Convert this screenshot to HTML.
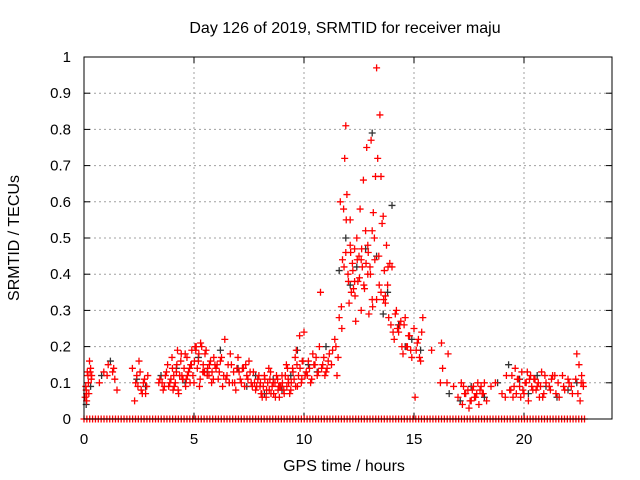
<!DOCTYPE html>
<html><head><meta charset="utf-8"><style>
body{margin:0;background:#fff}svg{display:block}
text{font-family:"Liberation Sans",sans-serif;font-size:16px;fill:#000}
.tick{font-size:15px}
</style></head><body>
<svg id="chart" width="640" height="480" viewBox="0 0 640 480">
<text x="345" y="33" text-anchor="middle">Day 126 of 2019, SRMTID for receiver maju</text>
<text x="344" y="471" text-anchor="middle">GPS time / hours</text>
<text x="19" y="238" text-anchor="middle" transform="rotate(-90 19 238)">SRMTID / TECUs</text>
<g id="grid"></g>
<g id="ticks"></g>
<g id="black"></g>
<g id="red"></g>
<rect x="84" y="57" width="528" height="362" fill="none" stroke="#000" stroke-width="1"/>
</svg>
<script>
const xTicks=[0,5,10,15,20];
const yTicks=[0,0.1,0.2,0.3,0.4,0.5,0.6,0.7,0.8,0.9,1];
const yTickLabels=["0","0.1","0.2","0.3","0.4","0.5","0.6","0.7","0.8","0.9","1"];
const redT=[0.05,0.1,0.15,0.2,0.3,0.35,0.7,0.9,1.1,1.3,1.4,1.5,2.2,2.3,2.4,2.5,2.6,2.7,2.8,2.9,3.4,3.6,3.7,3.8,3.9,4.0,4.1,4.2,4.3,4.4,4.5,4.6,4.7,4.8,4.9,5.0,5.1,5.2,5.3,5.4,5.5,5.6,5.7,5.8,5.9,6.0,6.1,6.2,6.3,6.4,6.5,6.6,6.7,6.8,6.9,7.0,7.1,7.2,7.3,7.4,7.5,7.6,7.7,7.8,7.9,8.0,8.1,8.2,8.3,8.4,8.5,8.6,8.7,8.8,8.9,9.0,9.1,9.2,9.3,9.4,9.5,9.6,9.7,9.8,9.9,10.0,10.1,10.2,10.3,10.4,10.5,10.6,10.7,10.8,10.9,11.0,11.1,11.3,11.4,11.5,11.6,11.7,11.75,11.8,11.85,11.9,11.95,12.0,12.05,12.1,12.15,12.2,12.25,12.3,12.35,12.4,12.45,12.5,12.55,12.6,12.65,12.7,12.75,12.8,12.85,12.9,12.95,13.0,13.05,13.1,13.15,13.2,13.25,13.3,13.35,13.4,13.45,13.5,13.55,13.6,13.65,13.7,13.75,13.8,13.85,13.9,13.95,14.0,14.1,14.2,14.3,14.4,14.5,14.6,14.7,14.8,14.9,15.0,15.1,15.2,15.3,15.4,15.8,16.2,16.3,16.5,16.8,17.0,17.2,17.3,17.5,17.6,17.7,17.8,17.9,18.0,18.1,18.3,18.5,18.7,19.0,19.2,19.4,19.5,19.6,19.7,19.8,19.9,20.0,20.1,20.2,20.3,20.4,20.5,20.6,20.7,20.8,20.9,21.0,21.2,21.4,21.6,21.8,22.0,22.2,22.4,22.5,22.6,22.7,
0.12,0.25,4.05,4.25,4.45,4.65,4.85,5.05,5.25,5.45,6.05,6.45,6.85,7.25,7.65,8.05,8.45,8.85,9.25,9.65,9.95,10.15,10.45,10.75,11.65,11.9,12.1,12.3,12.6,12.9,13.1,13.3,13.5,13.7,14.05,14.35,14.65,15.05,17.45,17.85,18.2,19.85,20.25,20.75,21.3,22.55,22.65];
const redV=[0.06,0.08,0.13,0.1,0.14,0.12,0.1,0.13,0.15,0.13,0.11,0.08,0.14,0.05,0.12,0.16,0.08,0.1,0.07,0.12,0.1,0.08,0.12,0.15,0.1,0.17,0.09,0.13,0.07,0.16,0.11,0.18,0.12,0.14,0.19,0.1,0.2,0.16,0.21,0.13,0.18,0.12,0.15,0.1,0.17,0.14,0.11,0.16,0.09,0.22,0.12,0.1,0.15,0.13,0.08,0.17,0.11,0.14,0.09,0.12,0.16,0.1,0.13,0.08,0.11,0.09,0.06,0.12,0.08,0.14,0.07,0.1,0.06,0.11,0.09,0.12,0.07,0.15,0.1,0.08,0.13,0.17,0.09,0.23,0.11,0.24,0.13,0.16,0.1,0.18,0.15,0.12,0.2,0.14,0.17,0.13,0.16,0.19,0.22,0.12,0.28,0.31,0.44,0.58,0.72,0.81,0.62,0.4,0.32,0.48,0.35,0.43,0.36,0.47,0.27,0.5,0.38,0.45,0.58,0.3,0.42,0.66,0.36,0.52,0.75,0.48,0.29,0.42,0.77,0.33,0.57,0.5,0.67,0.97,0.72,0.45,0.84,0.67,0.54,0.56,0.41,0.32,0.48,0.37,0.28,0.43,0.26,0.42,0.22,0.3,0.24,0.27,0.18,0.28,0.2,0.23,0.17,0.25,0.19,0.22,0.16,0.28,0.19,0.1,0.14,0.1,0.09,0.06,0.04,0.07,0.03,0.05,0.09,0.06,0.1,0.08,0.07,0.05,0.09,0.1,0.07,0.12,0.08,0.06,0.14,0.11,0.09,0.13,0.07,0.1,0.05,0.12,0.08,0.11,0.09,0.06,0.13,0.07,0.1,0.08,0.12,0.06,0.09,0.11,0.07,0.18,0.15,0.1,
0.09,0.07,0.16,0.08,0.19,0.12,0.11,0.15,0.2,0.09,0.13,0.15,0.11,0.1,0.14,0.09,0.07,0.11,0.09,0.14,0.19,0.16,0.12,0.15,0.35,0.6,0.46,0.55,0.38,0.44,0.4,0.52,0.33,0.35,0.34,0.24,0.26,0.2,0.06,0.08,0.07,0.1,0.06,0.11,0.09,0.12,0.05];
const redT2=[0.08,0.12,0.18,0.22,0.28,0.33,1.05,1.35,2.35,2.45,2.55,2.65,2.75,2.85,3.45,3.55,3.65,3.75,3.85,3.95,4.02,4.08,4.15,4.22,4.28,4.35,4.42,4.48,4.55,4.62,4.68,4.75,4.82,4.88,4.95,5.02,5.08,5.15,5.22,5.28,5.35,5.42,5.48,5.55,5.62,5.68,5.75,5.82,5.88,5.95,6.15,6.25,6.35,6.55,6.65,6.75,6.95,7.05,7.15,7.35,7.45,7.55,7.75,7.85,7.95,8.02,8.08,8.15,8.22,8.28,8.35,8.42,8.48,8.55,8.62,8.68,8.75,8.82,8.88,8.95,9.02,9.08,9.15,9.22,9.28,9.35,9.42,9.48,9.55,9.62,9.68,9.75,9.82,9.88,9.92,10.05,10.25,10.35,10.55,10.65,10.85,10.95,11.05,11.15,11.25,11.45,11.55,11.72,11.82,11.92,12.02,12.12,12.22,12.32,12.42,12.52,12.62,12.72,12.82,12.92,13.02,13.12,13.22,13.42,13.62,13.82,14.15,14.25,14.45,14.55,14.75,14.85,15.15,15.25,15.35,16.25,16.55,17.15,17.25,17.35,17.55,17.65,17.75,17.95,18.05,18.15,19.15,19.35,19.45,19.55,19.65,19.75,19.95,20.05,20.15,20.35,20.45,20.55,20.65,20.85,20.95,21.15,21.25,21.45,21.55,21.75,21.85,22.05,22.15,22.35,22.45,22.62,22.68];
const redV2=[0.09,0.05,0.12,0.07,0.13,0.11,0.12,0.14,0.1,0.09,0.13,0.07,0.11,0.09,0.11,0.1,0.09,0.13,0.09,0.11,0.14,0.12,0.1,0.15,0.08,0.12,0.18,0.11,0.14,0.09,0.17,0.13,0.1,0.15,0.12,0.16,0.19,0.14,0.18,0.11,0.2,0.15,0.13,0.19,0.14,0.12,0.16,0.13,0.11,0.15,0.13,0.17,0.12,0.15,0.18,0.1,0.14,0.13,0.1,0.15,0.11,0.13,0.1,0.09,0.12,0.1,0.07,0.09,0.11,0.06,0.1,0.08,0.13,0.09,0.07,0.1,0.12,0.08,0.06,0.09,0.1,0.08,0.12,0.09,0.11,0.07,0.1,0.14,0.11,0.09,0.15,0.12,0.14,0.1,0.16,0.12,0.14,0.11,0.17,0.13,0.15,0.12,0.14,0.18,0.15,0.2,0.17,0.25,0.42,0.55,0.38,0.46,0.41,0.34,0.44,0.39,0.47,0.37,0.43,0.46,0.4,0.31,0.44,0.37,0.33,0.42,0.29,0.25,0.2,0.26,0.23,0.19,0.21,0.17,0.24,0.21,0.18,0.1,0.09,0.07,0.05,0.08,0.06,0.04,0.09,0.07,0.06,0.08,0.12,0.09,0.07,0.11,0.08,0.1,0.13,0.09,0.11,0.08,0.1,0.06,0.12,0.09,0.11,0.07,0.1,0.12,0.08,0.1,0.09,0.11,0.07,0.12,0.1,0.08,0.06,0.07];
const blackT=[0.1,0.3,0.8,1.2,2.4,2.8,3.5,4.2,4.6,5.2,5.6,6.2,6.6,7.0,7.4,7.8,8.2,8.6,9.0,9.4,9.7,10.2,10.6,11.0,11.6,11.9,12.1,12.4,12.8,13.1,13.3,13.6,13.8,14.0,14.3,14.6,14.9,15.3,16.6,17.1,17.6,18.2,18.8,19.3,19.8,20.2,20.6,21.0,21.5,22.0,22.4];
const blackV=[0.04,0.09,0.12,0.16,0.11,0.09,0.12,0.14,0.1,0.17,0.13,0.19,0.1,0.14,0.09,0.12,0.07,0.11,0.08,0.12,0.19,0.15,0.13,0.2,0.41,0.5,0.37,0.42,0.47,0.79,0.45,0.29,0.35,0.59,0.26,0.2,0.22,0.19,0.07,0.05,0.09,0.06,0.1,0.15,0.11,0.07,0.12,0.09,0.06,0.08,0.1];
const zeroT=[];
for(let h=0;h<=22.75;h+=0.13){zeroT.push(+h.toFixed(2));}
</script>
<script>
const NS="http://www.w3.org/2000/svg";
const X0=84,X1=612,Y0=419,Y1=57,XMAX=24;
const xs=t=>X0+t/XMAX*(X1-X0);
const ys=v=>Y0-v*(Y0-Y1);
function mk(tag,attrs,parent){const e=document.createElementNS(NS,tag);for(const k in attrs)e.setAttribute(k,attrs[k]);parent.appendChild(e);return e;}
const grid=document.getElementById('grid'),ticks=document.getElementById('ticks');
yTicks.forEach((v,i)=>{
  const y=ys(v);
  if(i>0&&i<yTicks.length-1){const l=mk('line',{x1:X0,x2:X1,y1:y,y2:y,stroke:'#a0a0a0','stroke-dasharray':'2,3'},grid);
  
  }
  mk('line',{x1:X0,x2:X0+6,y1:y,y2:y,stroke:'#000'},ticks);
  mk('line',{x1:X1,x2:X1-6,y1:y,y2:y,stroke:'#000'},ticks);
  const t=mk('text',{x:X0-13,y:y+5,'text-anchor':'end','class':'tick'},ticks);t.textContent=yTickLabels[i];
  
  
});
xTicks.forEach(v=>{
  const x=xs(v);
  if(v>0){const l=mk('line',{x1:x,x2:x,y1:Y0,y2:Y1,stroke:'#a0a0a0','stroke-dasharray':'2,3'},grid);
  
  }
  mk('line',{x1:x,x2:x,y1:Y0,y2:Y0-6,stroke:'#000'},ticks);
  mk('line',{x1:x,x2:x,y1:Y1,y2:Y1+6,stroke:'#000'},ticks);
  const t=mk('text',{x:x,y:Y0+25,'text-anchor':'middle','class':'tick'},ticks);t.textContent=String(v);
  
  
});
function plus(g,t,v,c,name){
  const x=xs(t),y=ys(v);
  const p=mk('path',{d:`M${x-3.5} ${y}H${x+3.5}M${x} ${y-3.5}V${y+3.5}`,stroke:c,'stroke-width':1.3,fill:'none'},g);
  
  
}
const bg=document.getElementById('black'),rg=document.getElementById('red');
blackT.forEach((t,i)=>plus(bg,t,blackV[i],'#333','black-point'));
redT.forEach((t,i)=>plus(rg,t,redV[i],'#f00','red-point'));
redT2.forEach((t,i)=>plus(rg,t,redV2[i],'#f00','red-point'));
zeroT.forEach(t=>plus(rg,t,0,'#f00','zero-point'));
</script>
</body></html>
